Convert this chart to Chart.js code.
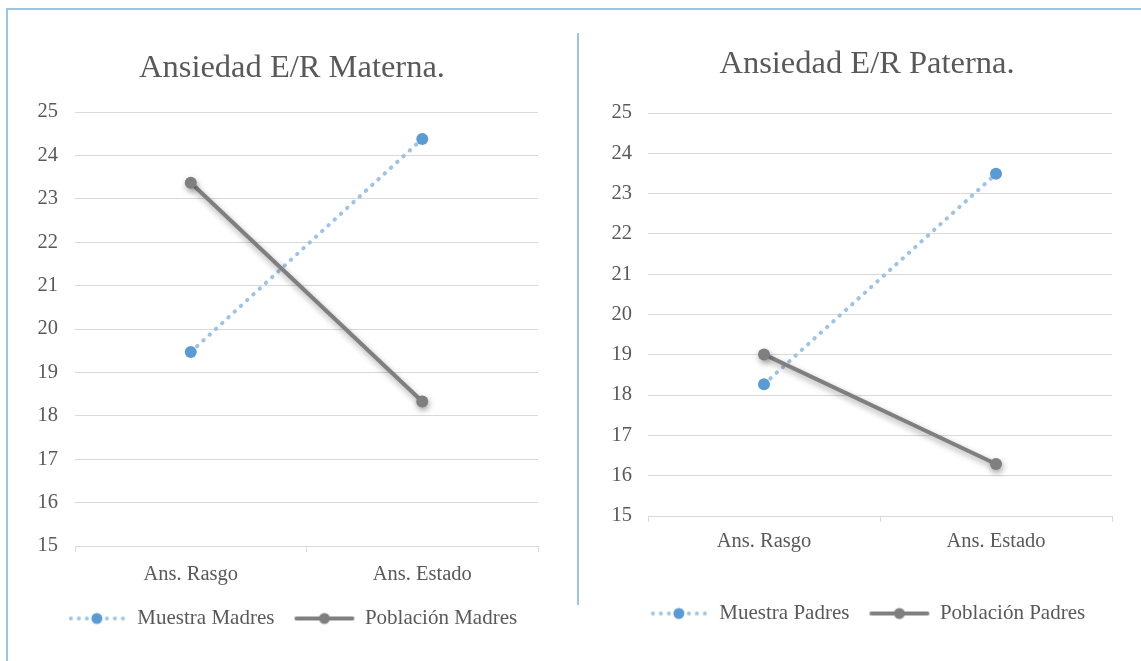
<!DOCTYPE html>
<html>
<head>
<meta charset="utf-8">
<script src="https://cdn.jsdelivr.net/npm/chart.js@4.4.1/dist/chart.umd.min.js"></script>
<style>
  html, body { margin: 0; padding: 0; background: #fff; overflow: hidden; }
  body { width: 1141px; height: 661px; position: relative; }
  .frame { position: absolute; left: 6px; top: 8px; width: 1200px; height: 700px;
           border-left: 2px solid #9DC3E6; border-top: 2px solid #9DC3E6; }
  .divider { position: absolute; left: 577px; top: 33px; width: 2px; height: 572px; background: #9DC3E6; }
  canvas { position: absolute; }
  #chart-madres { left: 10px; top: 30px; }
  #chart-padres { left: 582px; top: 30px; }
</style>
</head>
<body>
<div class="frame"></div>
<div class="divider"></div>
<canvas id="chart-madres" width="565" height="630"></canvas>
<canvas id="chart-padres" width="559" height="630"></canvas>
<script>
const categories = ['Ans. Rasgo', 'Ans. Estado'];

const muestraMadres = [19.47, 24.38];
const poblacionMadres = [23.37, 18.33];

const muestraPadres = [18.27, 23.49];
const poblacionPadres = [19.01, 16.29];

const yTicks = [15, 16, 17, 18, 19, 20, 21, 22, 23, 24, 25];

const textColor = '#595959';
const gridColor = '#D9D9D9';
const blueDot = '#5B9BD5';
const blueLine = '#9DC3E6';
const grayLine = '#7F7F7F';
const serif = '"Liberation Serif", "DejaVu Serif", serif';

// legend symbols: line with a marker in the middle
function dottedSymbol() {
    const c = document.createElement('canvas');
    c.width = 60; c.height = 14;
    const ctx = c.getContext('2d');
    ctx.fillStyle = blueLine;
    [4, 12, 20, 40, 48, 56].forEach(x => {
        ctx.beginPath(); ctx.arc(x, 7, 2, 0, Math.PI * 2); ctx.fill();
    });
    ctx.fillStyle = blueDot;
    ctx.beginPath(); ctx.arc(30, 7, 5.5, 0, Math.PI * 2); ctx.fill();
    return c;
}

function solidSymbol() {
    const c = document.createElement('canvas');
    c.width = 62; c.height = 14;
    const ctx = c.getContext('2d');
    ctx.strokeStyle = grayLine;
    ctx.lineWidth = 4;
    ctx.lineCap = 'round';
    ctx.beginPath(); ctx.moveTo(3, 7); ctx.lineTo(59, 7); ctx.stroke();
    ctx.fillStyle = grayLine;
    ctx.beginPath(); ctx.arc(31, 7, 5.5, 0, Math.PI * 2); ctx.fill();
    return c;
}

const legendSymbols = [dottedSymbol(), solidSymbol()];

const shadowPlugin = {
    id: 'lineShadow',
    beforeDatasetDraw(chart, args) {
        if (args.index !== 1) return;
        const ctx = chart.ctx;
        ctx.save();
        ctx.shadowColor = 'rgba(0, 0, 0, 0.35)';
        ctx.shadowBlur = 6;
        ctx.shadowOffsetX = 1;
        ctx.shadowOffsetY = 3;
    },
    afterDatasetDraw(chart, args) {
        if (args.index !== 1) return;
        chart.ctx.restore();
    }
};

function makeChart(canvasId, title, labels, muestra, poblacion, names, lay) {
    return new Chart(document.getElementById(canvasId), {
        type: 'line',
        data: {
            labels: labels,
            datasets: [{
                label: names[0],
                data: muestra,
                borderColor: blueLine,
                borderWidth: 4,
                borderDash: [0.5, 8],
                borderCapStyle: 'round',
                pointRadius: 6,
                pointBackgroundColor: blueDot,
                pointBorderWidth: 0,
                order: 1
            }, {
                label: names[1],
                data: poblacion,
                borderColor: grayLine,
                borderWidth: 4,
                pointRadius: 6,
                pointBackgroundColor: grayLine,
                pointBorderWidth: 0,
                order: 0
            }]
        },
        options: {
            responsive: false,
            animation: false,
            layout: {
                padding: { left: lay.padLeft, right: lay.padRight, top: 0, bottom: lay.padBottom }
            },
            plugins: {
                title: {
                    display: true,
                    text: title,
                    color: textColor,
                    font: { family: serif, size: 32.5, weight: 'normal' },
                    padding: { top: lay.titleTop, bottom: lay.titleBottom }
                },
                legend: {
                    position: 'bottom',
                    labels: {
                        color: textColor,
                        font: { family: serif, size: 21 },
                        usePointStyle: true,
                        pointStyleWidth: 60,
                        padding: 20,
                        generateLabels: (chart) => chart.data.datasets.map((ds, i) => ({
                            text: ds.label,
                            pointStyle: legendSymbols[i],
                            fontColor: textColor,
                            strokeStyle: 'transparent',
                            fillStyle: 'transparent',
                            lineWidth: 0,
                            datasetIndex: i
                        }))
                    }
                },
                tooltip: { enabled: false }
            },
            scales: {
                x: {
                    offset: true,
                    grid: {
                        drawOnChartArea: false,
                        drawTicks: true,
                        tickLength: 6,
                        offset: true,
                        color: gridColor
                    },
                    border: { display: true, color: gridColor },
                    ticks: {
                        color: textColor,
                        font: { family: serif, size: 20.5 },
                        padding: lay.xPad
                    },
                    afterFit: (scale) => { scale.height = lay.xHeight; }
                },
                y: {
                    min: yTicks[0],
                    max: yTicks[yTicks.length - 1],
                    afterBuildTicks: (scale) => { scale.ticks = yTicks.map(v => ({ value: v })); },
                    grid: { color: gridColor, drawTicks: false },
                    border: { display: false },
                    ticks: {
                        color: textColor,
                        font: { family: serif, size: 20.5 },
                        padding: lay.yPad
                    },
                    afterFit: (scale) => { scale.width = lay.yWidth; }
                },
                // empty spacer on the right so the title sits where the original has it
                spacer: {
                    type: 'linear',
                    position: 'right',
                    grid: { display: false },
                    border: { display: false },
                    ticks: { display: false },
                    afterFit: (scale) => { scale.width = lay.spacer; }
                }
            }
        },
        plugins: [shadowPlugin]
    });
}

makeChart('chart-madres', 'Ansiedad E/R Materna.', categories, muestraMadres, poblacionMadres,
    ['Muestra Madres', 'Población Madres'],
    { padLeft: 26, padRight: 27, spacer: 10, padBottom: 21, titleTop: 19, titleBottom: 24,
      xPad: 10, xHeight: 42, yPad: 17, yWidth: 39 });

makeChart('chart-padres', 'Ansiedad E/R Paterna.', categories, muestraPadres, poblacionPadres,
    ['Muestra Padres', 'Población Padres'],
    { padLeft: 26, padRight: 15, spacer: 14, padBottom: 26, titleTop: 15, titleBottom: 29,
      xPad: 7, xHeight: 67, yPad: 16, yWidth: 40 });
</script>
</body>
</html>
